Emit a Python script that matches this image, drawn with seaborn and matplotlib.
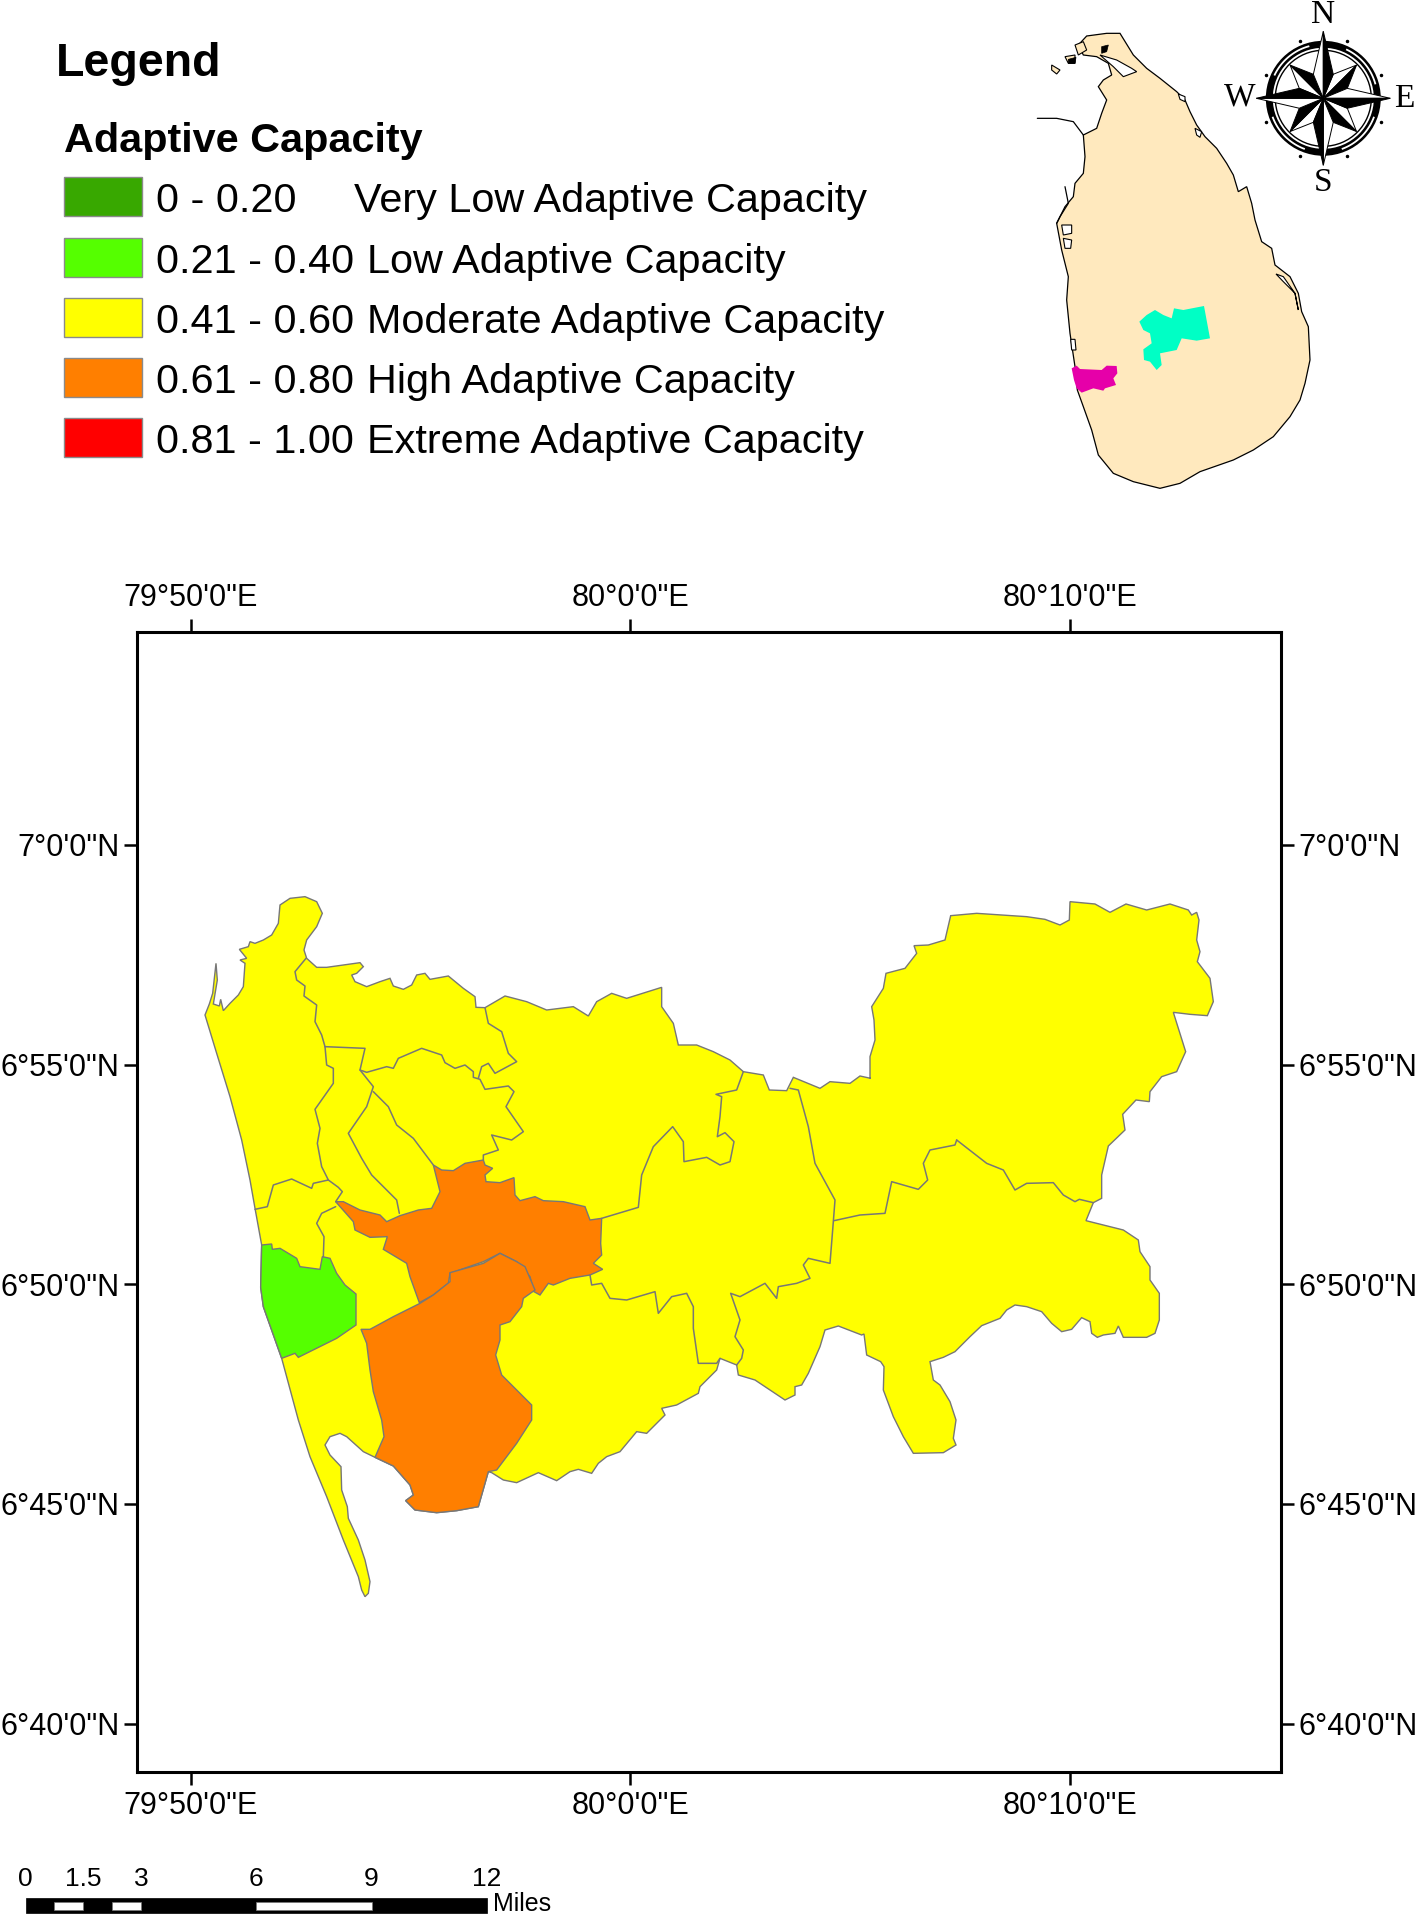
import matplotlib
matplotlib.use('Agg')
import matplotlib.pyplot as plt
from matplotlib.patches import Rectangle, Circle, Polygon
import numpy as np
import pandas as pd
import seaborn as sns

# Boundaries, in 3x crop units (see the offsets in crop() calls below)
coast_nw = [(75,405),(88,372),(98,340),(108,250),(112,300),(100,372),(118,378),(122,358),(130,392),(150,370),(175,345),
            (190,320),(195,250),(180,240),(200,235),(178,208),(205,200),(210,185),(225,190),(250,180),(275,165),(295,130),
            (300,75),(330,55),(375,50),(410,65),(427,100),(410,140),(380,180),(372,210),(380,235),(410,262),(440,262),
            (490,255),(540,248),(550,260),(530,280),(515,285),(525,305),(560,320),(600,305),(630,295),(640,318),(670,328),
            (695,315),(710,285),(735,280),(750,298),(805,288),(850,325),(885,350),(888,382),(915,383),(975,348),(1040,365),
            (1100,390),(1180,380),(1225,408),(1250,365),(1295,340),(1340,355),(1445,322),(1445,380)]
coast_n = [(545,20),(580,70),(595,135),(650,135),(700,155),(750,180),(790,215),(850,225),(868,270),(920,272),(940,232),
           (1020,265),(1050,245),(1110,250),(1140,228),(1172,235)]
coast_ne = [(210,595),(210,530),(225,480),(222,420),(215,380),(250,325),(258,280),(315,265),(350,220),(342,197),(385,195),
            (435,180),(452,107),(530,100),(680,110),(735,118),(780,135),(808,120),(810,65),(885,72),(930,97),(978,72),
            (1040,90),(1110,72),(1165,90),(1175,105),(1190,97),(1197,120),(1190,180),(1200,215),(1192,245),(1230,295),
            (1240,365),(1222,407),(1170,403),(1120,397),(1157,515),(1130,575),(1085,590),(1050,635),(1048,665),(1008,660),
            (968,703),(975,750),(925,798),(905,885),(905,955),(880,968),(858,1022),(970,1050),(1015,1080),(1020,1115),(1050,1160)]
coast_se = [(870,150),(898,190),(898,270),(885,310),(860,322),(790,322),(775,288),(765,310),(730,315),(712,322),(695,310),
            (690,275),(665,263),(635,298),(605,305),(575,280),(545,245),(500,230),(465,225),(440,240),(420,265),(365,287),
            (330,320),(285,365),(250,382),(210,395),(220,450),(240,465),(270,515),(288,570),(280,625),(288,645),(250,668),
            (160,670),(130,620),(100,560),(70,480),(72,410),(62,395),(20,375),(12,312)]
coast_s = [(1145,1005),(1075,978),(1035,990),(1020,1040),(985,1120),(965,1155),(945,1160),(945,1185),(915,1200),(870,1170),
           (825,1140),(775,1125),(770,1095),(720,1075),(710,1110),(660,1160),(655,1180),(590,1215),(545,1225),(555,1245),
           (500,1300),(470,1295)]
coast_sw = [(1170,755),(1130,770),(1105,790),(1085,820),(1045,808),(1020,815),(980,842),(925,818),(860,848),(820,840),(785,818),
            (775,815),(755,885),(745,920),(680,932),(620,938),(555,930),(527,902),(550,885),(540,855),(490,798),(435,772),
            (400,755),(350,710),(330,700),(300,710),(285,735),(300,765),(333,800),(335,870),(352,920),(355,955),(385,1020),
            (405,1080),(420,1145),(415,1180),(405,1190),(395,1170),(385,1130),(340,1020),(290,890),(240,770),(205,660),
            (155,475),(100,320),(92,262),(95,135)]
coast_w = [(225,985),(210,900),(185,780),(150,650),(110,520)]

high_north = [(467,965),(490,965),(540,990),(600,1005),(620,1025),(660,1007),(715,990),(755,985),(780,935),(760,855),(785,870),
              (820,872),(855,850),(910,840),(915,855),(938,865),(915,885),(918,905),(960,908),(1002,893),(1005,945),(1020,962),
              (1065,950),(1090,962),(1150,965),(1215,980),(1230,1020),(1265,1015),(1262,1090),(1265,1125),(1240,1150),(1268,1168),
              (1230,1185),(1170,1195),(1120,1215),(1105,1210),(1080,1245),(1062,1235),(1050,1190),(1010,1145),(960,1120),(910,1145),
              (810,1180),(805,1210),(760,1245),(718,1268),(690,1190),(680,1150),(610,1108),(622,1070),(570,1072),(525,1050),(520,1025)]
high_south = [(810,160),(860,185),(885,200),(915,270),(880,295),(875,320),(840,365),(810,375),(810,420),(797,465),(815,525),
              (860,570),(905,615),(905,660),(860,730),(800,810),(775,815),(755,885),(745,920),(680,932),(620,938),(555,930),
              (527,902),(550,885),(540,855),(490,798),(435,772),(462,710),(455,660),(430,575),(420,510),(410,430),(393,388),
              (420,388),(490,350),(570,310),(610,285),(660,245),(660,218),(760,190)]
low_ds = [(95,135),(125,132),(127,148),(150,145),(200,175),(210,200),(270,208),(277,170),(300,175),(320,220),(345,255),(378,282),
          (378,375),(320,415),(205,472),(195,460),(155,475),(100,320),(92,262)]

# inner district borders, first crop
borders_a = [
    [(378,235),(345,275),(350,300),(375,318),(372,348),(410,375),(405,425),(425,465),(435,500)],
    [(435,500),(440,555),(460,565),(460,610),(405,688),(420,745),(412,790),(425,860),(445,900),(400,910),(395,925),(335,897),
     (280,915),(262,980),(225,988)],
    [(445,900),(475,922),(487,935),(467,965)],
    [(435,500),(555,505),(540,570),(580,620),(560,680),(505,760),(545,835),(575,885),(650,960),(658,1000)],
    [(467,980),(425,1000),(410,1030),(432,1070),(430,1130)],
    [(540,570),(560,577),(620,560),(640,565),(655,535),(725,505),(785,525),(795,548),(825,565),(855,555),(880,575),(880,592),
     (900,598),(915,628),(985,618),(1002,635),(978,680),(1030,755),(995,780),(935,765),(955,810),(910,825),(910,840)],
    [(580,635),(625,680),(650,735),(700,775),(760,855)],
    [(915,383),(925,430),(965,455),(985,520),(1010,545),(945,580),(925,550),(905,560),(895,595)],
]
# inner district borders, second crop
borders_b = [
    [(365,655),(475,622),(485,525),(520,440),(578,380),(610,425),(612,485),(680,472),(720,495),(750,485),(762,425),(735,398),
     (712,410),(720,350),(725,290),(708,283),(770,270),(790,215)],
    [(930,265),(955,270),(985,380),(1005,490),(1065,600),(1060,665),(1050,790),(985,775),(970,795),(990,835),(950,850),(895,860),
     (890,895),(855,850),(780,890),(752,880),(780,960),(765,1010),(790,1050),(785,1075),(770,1095)],
    [(1062,662),(1140,645),(1215,640),(1235,545),(1315,568),(1343,540),(1330,490),(1350,450),(1425,435),(1430,420)],
    [(330,825),(335,855),(365,850),(390,895),(440,900),(525,875),(535,940),(575,890),(620,880),(640,920),(640,985),(655,1090),
     (710,1090),(720,1075)],
]
borders_c = [[(470,780),(560,850),(610,870),(645,930),(680,910),(760,908),(790,945),(825,965),(838,958),(880,968)]]

# key map of the island, in its own crop units
island = [(250,405),(290,385),(305,340),(320,300),(295,260),(310,240),(335,225),(325,190),(290,170),(250,165),(235,135),(260,108),
          (320,100),(360,100),(400,165),(440,205),(480,235),(530,275),(555,300),(570,335),(590,375),(615,410),(650,445),(680,490),
          (700,525),(715,575),(740,560),(755,610),(765,660),(785,725),(815,745),(825,795),(870,830),(895,880),(905,935),(925,980),
          (930,1080),(915,1150),(900,1200),(870,1250),(820,1310),(760,1350),(700,1380),(600,1415),(540,1450),(480,1465),(400,1445),
          (340,1420),(295,1365),(275,1290),(250,1220),(232,1170),(225,1100),(210,1000),(200,900),(205,830),(185,750),(170,670),
          (195,620),(220,590),(225,550),(250,520),(255,470)]
islet_a = [(155,195),(180,210),(170,222),(155,210)]
islet_b = [(195,170),(225,165),(225,190),(205,190)]
islet_c = [(225,135),(250,125),(260,150),(235,165)]
lagoon_a = [(300,165),(350,180),(395,205),(410,215),(370,230),(340,200)]
lagoon_b = [(185,675),(215,675),(215,700),(190,705)]
lagoon_c = [(190,715),(215,720),(212,745),(195,745)]
lagoon_d = [(212,1018),(225,1018),(228,1050),(215,1050)]
lagoon_e = [(828,822),(850,830),(885,880),(895,930),(885,880),(850,845)]
lagoon_f = [(535,282),(555,290),(555,305),(540,298)]
lagoon_g = [(585,385),(605,395),(600,412),(590,405)]
dark_a = [(305,140),(325,135),(320,155),(305,160)]
dark_b = [(205,178),(228,172),(225,190),(205,190)]
spit_kalpitiya = [(112,355),(170,355),(220,365),(250,405)]
spit_puttalam = [(195,560),(205,610),(180,650),(170,670)]
study_a = [(418,965),(440,945),(465,930),(490,945),(515,955),(522,925),(550,930),(612,918),(630,1015),(590,1022),(545,1015),
           (530,1050),(480,1060),(485,1095),(470,1110),(450,1085),(432,1080),(430,1048),(455,1030),(450,1000),(430,990)]
study_b = [(215,1105),(230,1097),(240,1107),(305,1110),(320,1097),(350,1098),(352,1120),(340,1135),(348,1155),(315,1165),
           (310,1172),(280,1165),(245,1178),(230,1165),(222,1140)]

# legend
class_ranges = ['0 - 0.20', '0.21 - 0.40', '0.41 - 0.60', '0.61 - 0.80', '0.81 - 1.00']
class_names = ['Very Low Adaptive Capacity', 'Low Adaptive Capacity', 'Moderate Adaptive Capacity',
               'High Adaptive Capacity', 'Extreme Adaptive Capacity']
class_colors = ['#38A800', '#55FF00', '#FFFF00', '#FF7F00', '#FF0000']

# graticule
lon_ticks = [79 + 50 / 60, 80, 80 + 10 / 60]
lon_labels = ['79°50\'0"E', '80°0\'0"E', '80°10\'0"E']
lat_ticks = [7, 6 + 55 / 60, 6 + 50 / 60, 6 + 45 / 60, 6 + 40 / 60]
lat_labels = ['7°0\'0"N', '6°55\'0"N', '6°50\'0"N', '6°45\'0"N', '6°40\'0"N']

# scale bar, miles
scale_ticks = [0, 1.5, 3, 6, 9, 12]
scale_gaps = [(0.75, 1.5), (2.25, 3), (6, 9)]

W, H = 1418, 1916
FRAME = (137, 632, 1281, 1772)
PX_MIN = 43.93


def crop(pts, x0, y0):
    return [(x0 + x / 3, y0 + y / 3) for x, y in pts]


def geo(pts):
    # trace position on the sheet to lon/lat
    lon = [79 + 50 / 60 + (x - 191) / PX_MIN / 60 for x, y in pts]
    lat = [7 - (y - 845) / PX_MIN / 60 for x, y in pts]
    return lon, lat


def axes_at(left, top, right, bottom, **kw):
    return fig.add_axes([left / W, 1 - bottom / H, (right - left) / W, (bottom - top) / H], **kw)


sns.set_style('white')
plt.rcParams['font.family'] = ['Liberation Sans', 'DejaVu Sans']
plt.rcParams['text.color'] = 'black'
fig = plt.figure(figsize=(W / 100, H / 100), dpi=100)

# main map
ax = axes_at(*FRAME)
C1, C4, C5, C7, C6 = (180, 880), (480, 1000), (800, 880), (860, 1230), (230, 1200)
outline = (crop(coast_nw, *C1) + crop(coast_n, *C4) + crop(coast_ne, *C5) + crop(coast_se, *C7)
           + crop(coast_s, *C4) + crop(coast_sw, *C6) + crop(coast_w, *C1))
GREY = '#777777'
ax.fill(*geo(outline), facecolor='#FFFF00', edgecolor=GREY, lw=1.0, zorder=1)
ax.fill(*geo(crop(high_north, *C1)), facecolor='#FF7F00', edgecolor=GREY, lw=1.0, zorder=2)
ax.fill(*geo(crop(high_south, *C6)), facecolor='#FF7F00', edgecolor=GREY, lw=1.0, zorder=2)
ax.fill(*geo(crop(low_ds, *C6)), facecolor='#55FF00', edgecolor=GREY, lw=1.0, zorder=2)

rows = []
segments = [crop(b, *C1) for b in borders_a] + [crop(b, *C4) for b in borders_b] + [crop(b, *C5) for b in borders_c]
for i, seg in enumerate(segments):
    lon, lat = geo(seg)
    rows.append(pd.DataFrame({'lon': lon, 'lat': lat, 'segment': i}))
border_df = pd.concat(rows)
sns.lineplot(data=border_df, x='lon', y='lat', units='segment', estimator=None, sort=False,
             color=GREY, lw=1.1, ax=ax, zorder=3)

lon_lim, lat_lim = geo([(FRAME[0], FRAME[3]), (FRAME[2], FRAME[1])])
ax.set_xlim(lon_lim)
ax.set_ylim(lat_lim)
ax.set_xlabel('')
ax.set_ylabel('')
ax.set_xticks(lon_ticks, lon_labels)
ax.set_yticks(lat_ticks, lat_labels)
ax.tick_params(axis='both', which='major', direction='out', length=9.5, width=1.8, labelsize=22,
               top=True, bottom=True, left=True, right=True, labeltop=True, labelbottom=True,
               labelleft=True, labelright=True, pad=3, colors='black')
ax.tick_params(axis='x', pad=4.5)
for s in ax.spines.values():
    s.set_visible(True)
    s.set_linewidth(2.2)
    s.set_color('black')

# overlay for legend, scale bar and compass, in sheet pixels
ov = fig.add_axes([0, 0, 1, 1], zorder=5)
ov.set_xlim(0, W)
ov.set_ylim(H, 0)
ov.axis('off')
ov.patch.set_alpha(0)

ov.text(56, 76, 'Legend', fontsize=33.5, fontweight='bold', va='baseline')
ov.text(64, 152, 'Adaptive Capacity', fontsize=29.8, fontweight='bold', va='baseline')
row_tops = [177, 238, 298, 358, 418]
for i, top in enumerate(row_tops):
    ov.add_patch(Rectangle((64, top), 78, 39, facecolor=class_colors[i], edgecolor='#8a8a8a', lw=1))
    ov.text(156, top + 35, class_ranges[i], fontsize=29.8, va='baseline')
    ov.text(354 if i == 0 else 367, top + 35, class_names[i], fontsize=29.8, va='baseline')

# scale bar
SX0, SMILE = 25.5, 38.45
ov.add_patch(Rectangle((SX0, 1898), 12 * SMILE, 15, facecolor='black', edgecolor='black', lw=0.5))
for a, b in scale_gaps:
    ov.add_patch(Rectangle((SX0 + a * SMILE, 1901.5), (b - a) * SMILE, 8.5, facecolor='white', edgecolor='#777777', lw=0.5))
for t in scale_ticks:
    ov.text(SX0 + t * SMILE, 1886, f'{t:g}', fontsize=19, ha='center', va='baseline')
ov.text(493, 1911, 'Miles', fontsize=18, va='baseline')

# key map
ins = ov
ins.fill(*zip(*crop(island, 1000, 0)), facecolor='#FFE9BE', edgecolor='black', lw=0.9)
for shape in (islet_a, islet_b, islet_c):
    ins.fill(*zip(*crop(shape, 1000, 0)), facecolor='#FFE9BE', edgecolor='black', lw=0.8)
for shape in (lagoon_a, lagoon_b, lagoon_c, lagoon_d, lagoon_e, lagoon_f, lagoon_g):
    ins.fill(*zip(*crop(shape, 1000, 0)), facecolor='white', edgecolor='black', lw=0.8)
for shape in (dark_a, dark_b):
    ins.fill(*zip(*crop(shape, 1000, 0)), facecolor='black', edgecolor='black', lw=0.5)
for line in (spit_kalpitiya, spit_puttalam):
    ins.plot(*zip(*crop(line, 1000, 0)), color='black', lw=0.9)
ins.fill(*zip(*crop(study_a, 1000, 0)), facecolor='#00FFC5', edgecolor='none')
ins.fill(*zip(*crop(study_b, 1000, 0)), facecolor='#E600A9', edgecolor='none')

# compass
cx, cy = 1323.3, 98.3
ov.add_patch(Circle((cx, cy), 54, facecolor='none', edgecolor='black', lw=5))
ov.add_patch(Circle((cx, cy), 48, facecolor='none', edgecolor='black', lw=1.0))
for a0 in (20, 110, 205, 295):
    t = np.radians(np.linspace(a0, a0 + 50, 30))
    ov.plot(cx + 54 * np.cos(t), cy + 54 * np.sin(t), color='white', lw=1.3, solid_capstyle='butt')
for ang in np.arange(22.5, 360, 45):
    t = np.radians(ang)
    ov.plot(cx + 62 * np.cos(t), cy + 62 * np.sin(t), marker='.', ms=3, color='black')
for k in [1, 3, 5, 7, 0, 2, 4, 6]:
    ang = np.radians(k * 45 - 90)
    r = 67 if k % 2 == 0 else 47
    tip = (cx + r * np.cos(ang), cy + r * np.sin(ang))
    off = np.radians(22.5)
    cw = (cx + 26 * np.cos(ang + off), cy + 26 * np.sin(ang + off))
    ccw = (cx + 26 * np.cos(ang - off), cy + 26 * np.sin(ang - off))
    z = 7 if k % 2 == 0 else 6
    ov.add_patch(Polygon([tip, ccw, (cx, cy)], facecolor='white', edgecolor='black', lw=0.7, zorder=z))
    ov.add_patch(Polygon([tip, cw, (cx, cy)], facecolor='black', edgecolor='black', lw=0.7, zorder=z))
for lab, lx, ly in [('N', cx, 15), ('S', cx, 183), ('W', 1240, 97), ('E', 1404, 99)]:
    ov.text(lx, ly, lab, family='Liberation Serif', fontsize=24, ha='center', va='center')

fig.savefig('out.png', dpi=100)
